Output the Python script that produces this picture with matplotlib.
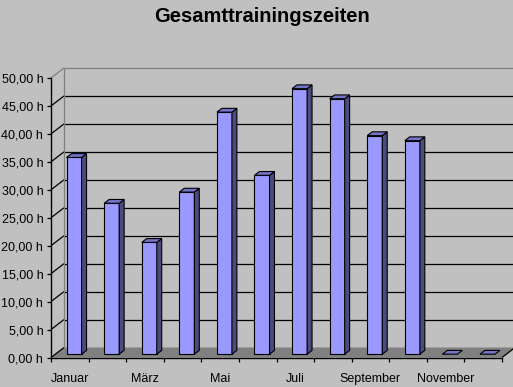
import matplotlib.pyplot as plt
import numpy as np
from matplotlib.patches import Polygon

months = ['Januar', 'Februar', 'März', 'April', 'Mai', 'Juni', 'Juli',
          'August', 'September', 'Oktober', 'November', 'Dezember']
hours = [35.2, 27.0, 20.0, 29.0, 43.3, 32.0, 47.5, 45.7, 39.1, 38.2, 0.0, 0.0]
yticks = np.arange(0, 55, 5)

plt.rcParams['font.family'] = ['Liberation Sans', 'DejaVu Sans']

W, H = 513, 387
fig = plt.figure(figsize=(W / 100, H / 100), dpi=100, facecolor='#C0C0C0')
# front plane of the 3d box, in pixels
left, right, bottom, top = 51, 502, 357.5, 78
ax = fig.add_axes([left / W, (H - bottom) / H, (right - left) / W, (bottom - top) / H])
ax.set_facecolor('none')
n = len(months)
ax.set_xlim(0, n)
ax.set_ylim(0, 50)

# depth of the box (pixels) converted to data units
px_x = (right - left) / n
px_y = (bottom - top) / 50
DX, DY = 13 / px_x, 10 / px_y


def pt(x, v, d):
    return (x + d * DX, v + d * DY)


def poly(pts, fc, ec='black', lw=0.8, z=2):
    ax.add_patch(Polygon([pt(*p) for p in pts], closed=True, facecolor=fc,
                         edgecolor=ec, linewidth=lw, clip_on=False, zorder=z))


def line(p0, p1, color='black', lw=0.9, z=1):
    a, b = pt(*p0), pt(*p1)
    ax.plot([a[0], b[0]], [a[1], b[1]], color=color, lw=lw, clip_on=False,
            zorder=z, solid_capstyle='butt')


# floor
poly([(0, 0, 0), (n, 0, 0), (n, 0, 1), (0, 0, 1)], '#808080', ec='none', z=1)
line((0, 0, 0), (0, 0, 1))
line((n, 0, 0), (n, 0, 1))

# walls and gridlines
for v in yticks[1:]:
    c = '#808080' if v == 50 else 'black'
    line((0, v, 1), (n + 1, v, 1), color=c)
    line((0, v, 0), (0, v, 1), color=c)
line((0, 0, 1), (0, 50, 1), color='#808080')

# bars
w, f1, f2 = 0.4, 0.33, 0.71
for i, v in enumerate(hours):
    x0, x1 = i + 0.5 - w / 2, i + 0.5 + w / 2
    if v > 0:
        poly([(x0, 0, f1), (x1, 0, f1), (x1, v, f1), (x0, v, f1)], '#9999FF', z=3)
        poly([(x1, 0, f1), (x1, 0, f2), (x1, v, f2), (x1, v, f1)], '#4B4B7D', z=3)
    poly([(x0, v, f1), (x1, v, f1), (x1, v, f2), (x0, v, f2)], '#7373C8', z=3)

# axes
for s in ['top', 'right']:
    ax.spines[s].set_visible(False)
for s in ['left', 'bottom']:
    ax.spines[s].set_linewidth(1.0)
    ax.spines[s].set_zorder(5)

ax.set_yticks(yticks)
ax.set_yticklabels([f'{v:.2f} h'.replace('.', ',') for v in yticks])
ax.tick_params(axis='y', direction='out', length=3, width=0.9, pad=2.5,
               labelsize=9, colors='black')

ax.set_xticks(np.arange(n) + 0.5)
ax.set_xticklabels([m if i % 2 == 0 else '' for i, m in enumerate(months)])
ax.tick_params(axis='x', which='major', length=0, pad=11, labelsize=9)
ax.set_xticks(np.arange(n + 1), minor=True)
ax.tick_params(axis='x', which='minor', direction='out', length=3, width=0.9)

fig.text(0.51, 1 - 16 / H, 'Gesamttrainingszeiten', ha='center', va='center',
         fontsize=14.5, fontweight='bold')

fig.savefig('out.png', dpi=100, facecolor=fig.get_facecolor())
